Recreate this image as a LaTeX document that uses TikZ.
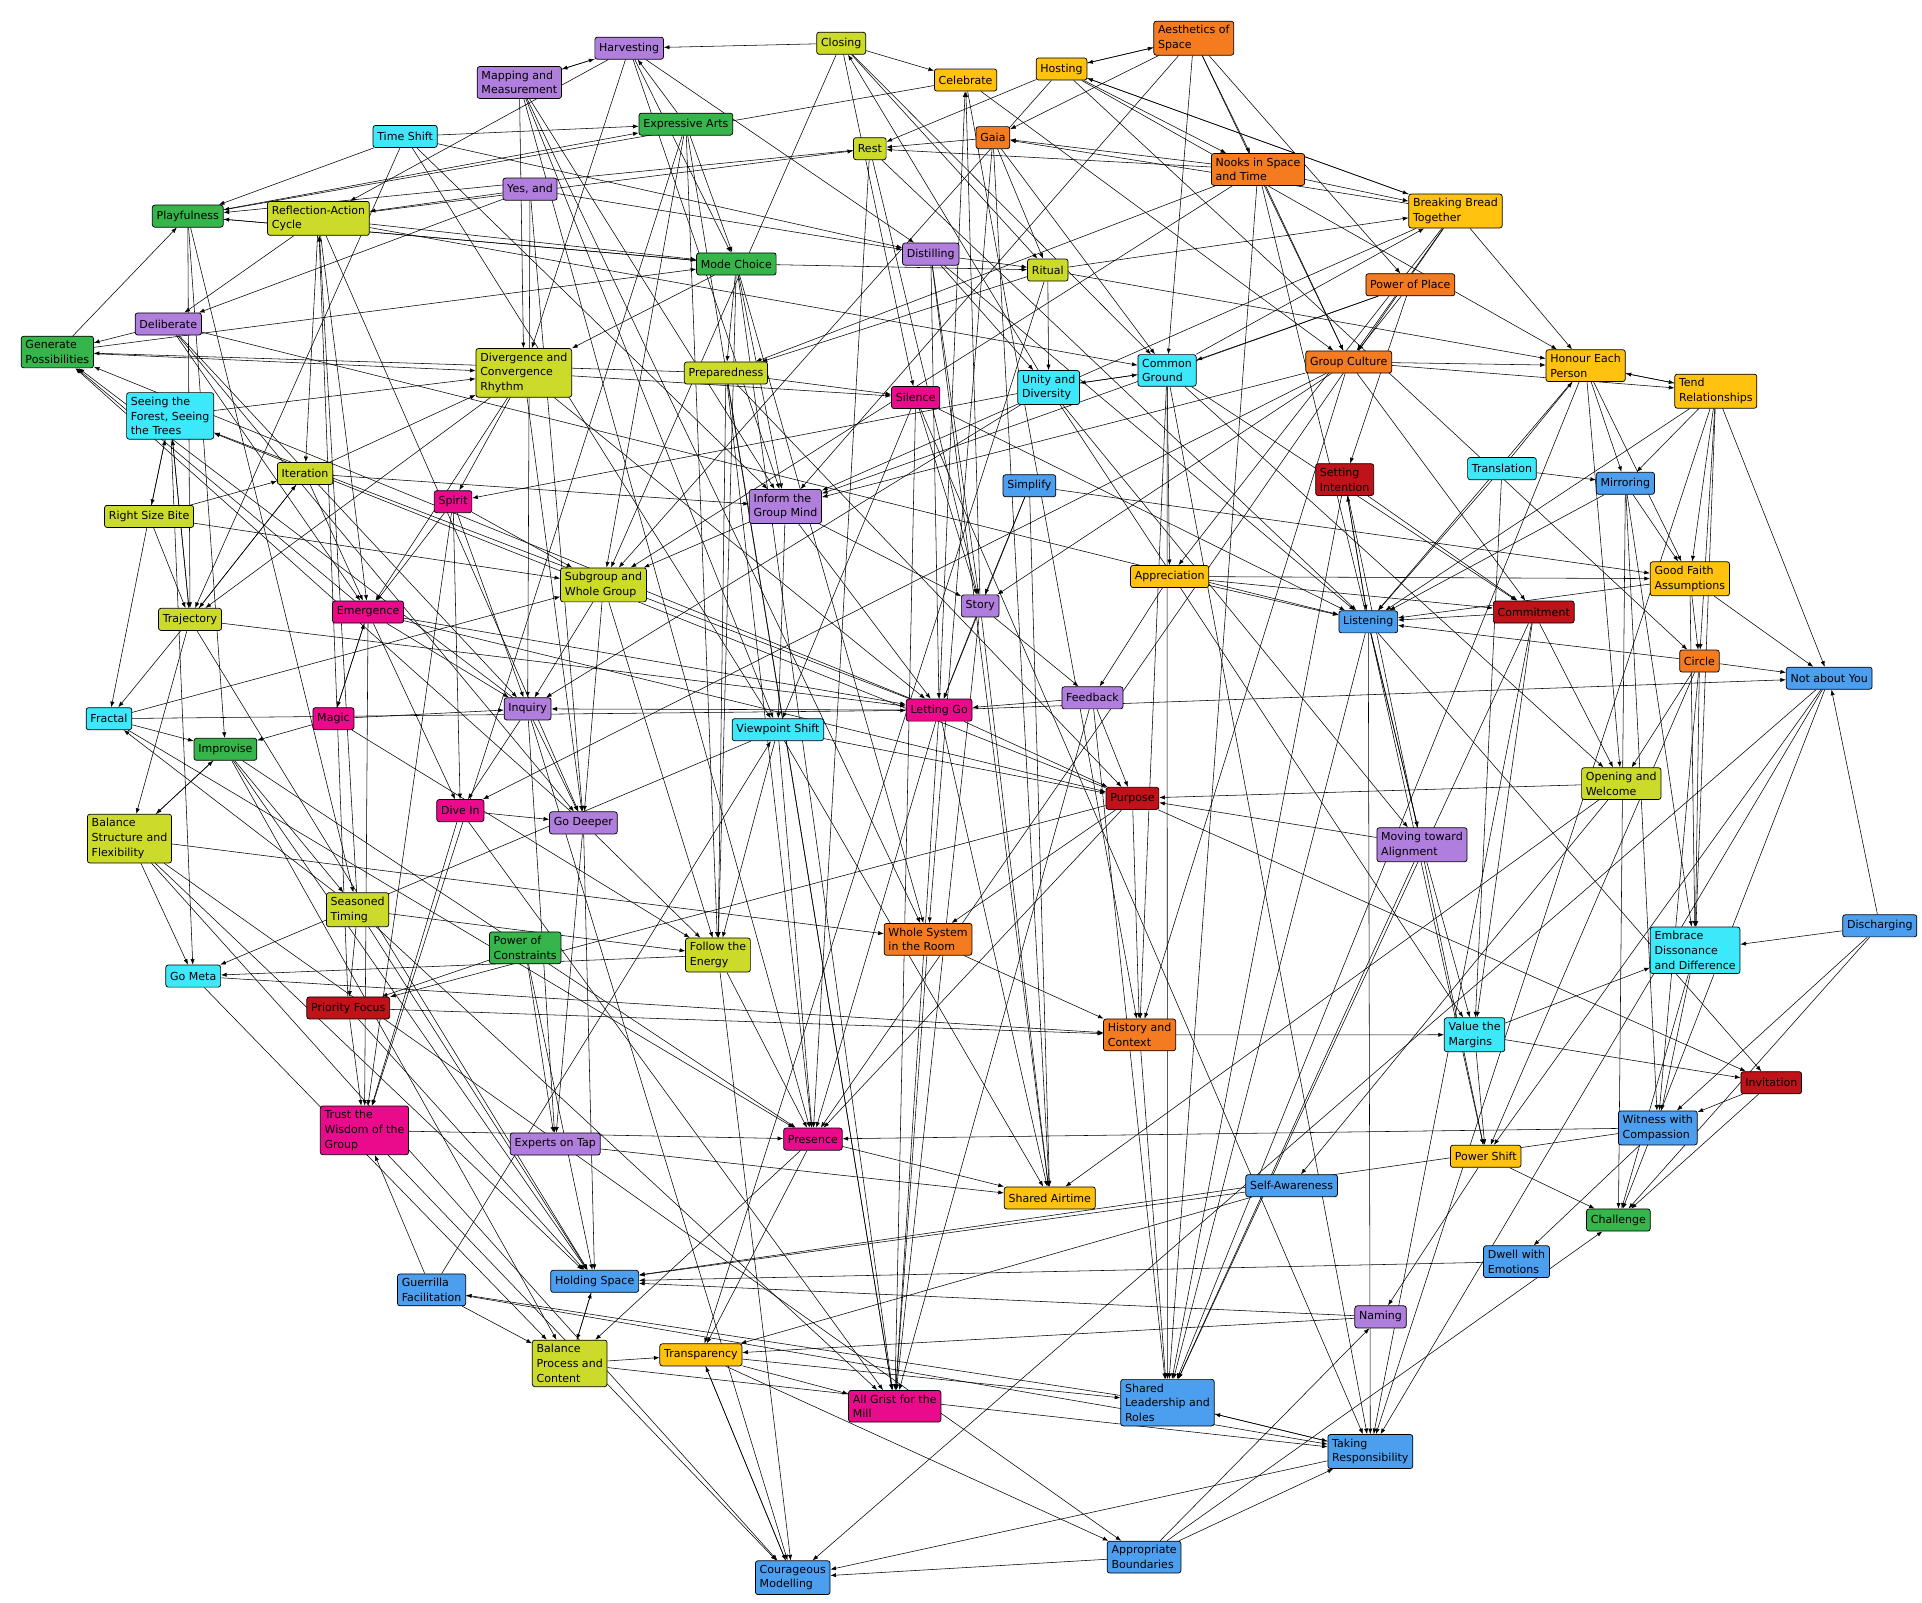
\documentclass[tikz,border=0pt]{standalone}
\usepackage{fontspec}
\setmainfont{DejaVu Sans}
\usepackage{xcolor}
\usetikzlibrary{arrows.meta}
\pgfdeclarelayer{bg}
\pgfsetlayers{bg,main}

\definecolor{lav}{RGB}{176,126,220}
\definecolor{grn}{RGB}{54,181,74}
\definecolor{cyn}{RGB}{62,232,251}
\definecolor{ylg}{RGB}{204,219,42}
\definecolor{gld}{RGB}{255,194,14}
\definecolor{org}{RGB}{244,123,32}
\definecolor{mag}{RGB}{234,10,140}
\definecolor{crd}{RGB}{191,18,25}
\definecolor{blu}{RGB}{76,159,238}

\begin{document}
\begin{tikzpicture}[x=1pt, y=-1pt,
    every node/.style={font=\fontsize{9}{12}\selectfont},
    box/.style={draw, line width=0.6pt, rounded corners=2pt, anchor=north west, align=left, inner xsep=3.5pt, inner ysep=3.5pt, minimum height=18pt},
    pu/.style={box, fill=lav}, gr/.style={box, fill=grn}, cy/.style={box, fill=cyn},
    yg/.style={box, fill=ylg}, go/.style={box, fill=gld}, or/.style={box, fill=org},
    mg/.style={box, fill=mag}, rd/.style={box, fill=crd}, bl/.style={box, fill=blu},
    link/.style={-{Latex[length=1.6mm,width=1.2mm]}, line width=0.45pt}]
    \useasboundingbox (0,0) rectangle (1568,1307);

    % top band
    \node[pu] (harv) at (485,30) {Harvesting};
    \node[yg] (clos) at (666,26) {Closing};
    \node[pu] (mapm) at (389,54) {Mapping and\\Measurement};
    \node[go] (celb) at (762,56) {Celebrate};
    \node[go] (host) at (845,47) {Hosting};
    \node[or] (aest) at (941,17) {Aesthetics of\\Space};
    \node[cy] (tshf) at (304,102) {Time Shift};
    \node[gr] (expa) at (521,92) {Expressive Arts};
    \node[yg] (rest) at (696,112) {Rest};
    \node[or] (gaia) at (796,103) {Gaia};
    \node[or] (nook) at (988,125) {Nooks in Space\\and Time};
    \node[pu] (yesa) at (410,145) {Yes, and};
    \node[gr] (play) at (124,167) {Playfulness};
    \node[yg] (refl) at (218,164) {Reflection-Action\\Cycle};
    \node[go] (brbr) at (1149,158) {Breaking Bread\\Together};
    \node[gr] (modc) at (568,206) {Mode Choice};
    \node[pu] (dist) at (736,198) {Distilling};
    \node[yg] (ritu) at (838,211) {Ritual};
    \node[or] (popl) at (1114,223) {Power of Place};

    % upper middle
    \node[gr] (genp) at (17,274) {Generate\\Possibilities};
    \node[pu] (delb) at (110,255) {Deliberate};
    \node[yg] (divc) at (388,284) {Divergence and\\Convergence\\Rhythm};
    \node[yg] (prep) at (558,295) {Preparedness};
    \node[mg] (silc) at (727,315) {Silence};
    \node[cy] (unid) at (830,302) {Unity and\\Diversity};
    \node[cy] (comg) at (928,289) {Common\\Ground};
    \node[or] (grpc) at (1065,286) {Group Culture};
    \node[go] (hone) at (1261,285) {Honour Each\\Person};
    \node[go] (tend) at (1366,305) {Tend\\Relationships};
    \node[cy] (seef) at (103,320) {Seeing the\\Forest, Seeing\\the Trees};
    \node[yg] (iter) at (226,377) {Iteration};
    \node[bl] (simp) at (818,387) {Simplify};
    \node[rd] (seti) at (1073,378) {Setting\\Intention};
    \node[cy] (tran) at (1197,373) {Translation};
    \node[bl] (mirr) at (1302,385) {Mirroring};
    \node[yg] (rsbt) at (85,412) {Right Size Bite};
    \node[mg] (spir) at (354,400) {Spirit};
    \node[pu] (infg) at (611,399) {Inform the\\Group Mind};
    \node[go] (appr) at (922,461) {Appreciation};
    \node[go] (gfas) at (1346,458) {Good Faith\\Assumptions};
    \node[yg] (subg) at (457,463) {Subgroup and\\Whole Group};
    \node[pu] (stor) at (784,485) {Story};
    \node[mg] (emer) at (271,490) {Emergence};
    \node[yg] (traj) at (129,496) {Trajectory};
    \node[bl] (lstn) at (1092,498) {Listening};
    \node[rd] (comm) at (1218,490) {Commitment};
    \node[or] (circ) at (1370,530) {Circle};
    \node[bl] (nayu) at (1457,544) {Not about You};

    % middle
    \node[pu] (fdbk) at (866,560) {Feedback};
    \node[mg] (letg) at (739,570) {Letting Go};
    \node[pu] (inqu) at (411,569) {Inquiry};
    \node[cy] (frac) at (70,577) {Fractal};
    \node[mg] (magi) at (255,577) {Magic};
    \node[cy] (vpsh) at (597,586) {Viewpoint Shift};
    \node[gr] (impr) at (158,602) {Improvise};
    \node[yg] (opwe) at (1290,626) {Opening and\\Welcome};
    \node[rd] (purp) at (902,642) {Purpose};
    \node[mg] (divi) at (356,652) {Dive In};
    \node[pu] (godp) at (448,662) {Go Deeper};
    \node[yg] (bsfl) at (71,664) {Balance\\Structure and\\Flexibility};
    \node[pu] (mvta) at (1123,675) {Moving toward\\Alignment};
    \node[yg] (seat) at (266,728) {Seasoned\\Timing};
    \node[or] (wsys) at (721,753) {Whole System\\in the Room};
    \node[gr] (pocn) at (399,760) {Power of\\Constraints};
    \node[yg] (foen) at (559,765) {Follow the\\Energy};
    \node[cy] (emdd) at (1346,756) {Embrace\\Dissonance\\and Difference};
    \node[bl] (disc) at (1503,746) {Discharging};
    \node[cy] (gomt) at (135,787) {Go Meta};
    \node[rd] (prfo) at (250,813) {Priority Focus};
    \node[or] (hico) at (900,831) {History and\\Context};
    \node[cy] (vmar) at (1178,830) {Value the\\Margins};
    \node[rd] (invi) at (1420,874) {Invitation};

    % lower band
    \node[mg] (trwg) at (261,902) {Trust the\\Wisdom of the\\Group};
    \node[pu] (extp) at (416,924) {Experts on Tap};
    \node[mg] (pres) at (639,920) {Presence};
    \node[bl] (wwcp) at (1320,906) {Witness with\\Compassion};
    \node[go] (posh) at (1183,934) {Power Shift};
    \node[go] (shai) at (819,968) {Shared Airtime};
    \node[bl] (slfa) at (1016,958) {Self-Awareness};
    \node[gr] (chal) at (1294,986) {Challenge};
    \node[bl] (dwem) at (1210,1016) {Dwell with\\Emotions};
    \node[bl] (hosp) at (449,1036) {Holding Space};
    \node[bl] (guer) at (324,1039) {Guerrilla\\Facilitation};
    \node[pu] (nami) at (1105,1065) {Naming};
    \node[yg] (bpco) at (434,1093) {Balance\\Process and\\Content};
    \node[go] (trsp) at (538,1096) {Transparency};
    \node[mg] (agrm) at (692,1134) {All Grist for the\\Mill};
    \node[bl] (shlr) at (914,1125) {Shared\\Leadership and\\Roles};
    \node[bl] (tkrs) at (1083,1170) {Taking\\Responsibility};
    \node[bl] (apbd) at (903,1257) {Appropriate\\Boundaries};
    \node[bl] (comd) at (616,1273) {Courageous\\Modelling};

    \begin{pgfonlayer}{bg}
    \draw[link] (clos) -- (harv);
    \draw[link] (clos) -- (celb);
    \draw[link] (unid) -- (clos);
    \draw[link] (clos) -- (subg);
    \draw[link] (clos) -- (silc);
    \draw[link] (clos) -- (ritu);
    \draw[link] (clos) -- (comg);
    \draw[link] (harv) -- (mapm);
    \draw[link] (mapm) -- (harv);
    \draw[link] (harv) -- (refl);
    \draw[link] (harv) -- (modc);
    \draw[link] (harv) -- (dist);
    \draw[link] (harv) -- (divc);
    \draw[link] (expa) -- (harv);
    \draw[link] (harv) -- (infg);
    \draw[link] (mapm) -- (infg);
    \draw[link] (mapm) -- (vpsh);
    \draw[link] (mapm) -- (pres);
    \draw[link] (mapm) -- (divc);
    \draw[link] (mapm) -- (wsys);
    \draw[link] (celb) -- (play);
    \draw[link] (stor) -- (celb);
    \draw[link] (celb) -- (grpc);
    \draw[link] (celb) -- (hico);
    \draw[link] (letg) -- (celb);
    \draw[link] (host) -- (aest);
    \draw[link] (aest) -- (host);
    \draw[link] (host) -- (rest);
    \draw[link] (host) -- (brbr);
    \draw[link] (brbr) -- (host);
    \draw[link] (host) -- (nook);
    \draw[link] (host) -- (hone);
    \draw[link] (host) -- (subg);
    \draw[link] (host) -- (circ);
    \draw[link] (aest) -- (gaia);
    \draw[link] (aest) -- (nook);
    \draw[link] (aest) -- (comg);
    \draw[link] (aest) -- (grpc);
    \draw[link] (aest) -- (popl);
    \draw[link] (aest) -- (infg);
    \draw[link] (tshf) -- (expa);
    \draw[link] (tshf) -- (play);
    \draw[link] (tshf) -- (dist);
    \draw[link] (tshf) -- (vpsh);
    \draw[link] (tshf) -- (infg);
    \draw[link] (tshf) -- (traj);
    \draw[link] (expa) -- (modc);
    \draw[link] (expa) -- (subg);
    \draw[link] (expa) -- (foen);
    \draw[link] (expa) -- (trwg);
    \draw[link] (expa) -- (agrm);
    \draw[link] (play) -- (expa);
    \draw[link] (rest) -- (play);
    \draw[link] (gaia) -- (rest);
    \draw[link] (nook) -- (rest);
    \draw[link] (refl) -- (rest);
    \draw[link] (rest) -- (stor);
    \draw[link] (rest) -- (pres);
    \draw[link] (rest) -- (lstn);
    \draw[link] (nook) -- (gaia);
    \draw[link] (gaia) -- (ritu);
    \draw[link] (gaia) -- (comg);
    \draw[link] (gaia) -- (shai);
    \draw[link] (gaia) -- (wsys);
    \draw[link] (brbr) -- (gaia);
    \draw[link] (nook) -- (brbr);
    \draw[link] (nook) -- (grpc);
    \draw[link] (nook) -- (prep);
    \draw[link] (nook) -- (subg);
    \draw[link] (nook) -- (shlr);
    \draw[link] (nook) -- (mvta);
    \draw[link] (yesa) -- (refl);
    \draw[link] (yesa) -- (delb);
    \draw[link] (yesa) -- (dist);
    \draw[link] (yesa) -- (inqu);
    \draw[link] (yesa) -- (godp);
    \draw[link] (play) -- (traj);
    \draw[link] (play) -- (modc);
    \draw[link] (modc) -- (play);
    \draw[link] (play) -- (seat);
    \draw[link] (play) -- (impr);
    \draw[link] (genp) -- (play);
    \draw[link] (refl) -- (iter);
    \draw[link] (refl) -- (delb);
    \draw[link] (refl) -- (modc);
    \draw[link] (refl) -- (comg);
    \draw[link] (refl) -- (emer);
    \draw[link] (refl) -- (godp);
    \draw[link] (seat) -- (refl);
    \draw[link] (prfo) -- (refl);
    \draw[link] (brbr) -- (hone);
    \draw[link] (brbr) -- (grpc);
    \draw[link] (brbr) -- (infg);
    \draw[link] (brbr) -- (appr);
    \draw[link] (brbr) -- (pres);
    \draw[link] (comg) -- (brbr);
    \draw[link] (ritu) -- (brbr);
    \draw[link] (modc) -- (prep);
    \draw[link] (modc) -- (foen);
    \draw[link] (modc) -- (wsys);
    \draw[link] (modc) -- (ritu);
    \draw[link] (modc) -- (agrm);
    \draw[link] (modc) -- (divc);
    \draw[link] (modc) -- (infg);
    \draw[link] (dist) -- (ritu);
    \draw[link] (dist) -- (stor);
    \draw[link] (dist) -- (lstn);
    \draw[link] (dist) -- (letg);
    \draw[link] (dist) -- (shai);
    \draw[link] (dist) -- (unid);
    \draw[link] (ritu) -- (unid);
    \draw[link] (ritu) -- (hone);
    \draw[link] (ritu) -- (prep);
    \draw[link] (ritu) -- (trsp);
    \draw[link] (popl) -- (grpc);
    \draw[link] (popl) -- (comg);
    \draw[link] (popl) -- (seti);
    \draw[link] (popl) -- (infg);
    \draw[link] (genp) -- (divc);
    \draw[link] (genp) -- (modc);
    \draw[link] (inqu) -- (genp);
    \draw[link] (letg) -- (genp);
    \draw[link] (prep) -- (genp);
    \draw[link] (godp) -- (genp);
    \draw[link] (delb) -- (genp);
    \draw[link] (emer) -- (genp);
    \draw[link] (delb) -- (lstn);
    \draw[link] (delb) -- (inqu);
    \draw[link] (delb) -- (godp);
    \draw[link] (delb) -- (emer);
    \draw[link] (divc) -- (spir);
    \draw[link] (divc) -- (silc);
    \draw[link] (divc) -- (godp);
    \draw[link] (divc) -- (letg);
    \draw[link] (divc) -- (traj);
    \draw[link] (divc) -- (emer);
    \draw[link] (prep) -- (silc);
    \draw[link] (prep) -- (agrm);
    \draw[link] (prep) -- (foen);
    \draw[link] (prep) -- (purp);
    \draw[link] (prep) -- (pres);
    \draw[link] (silc) -- (lstn);
    \draw[link] (silc) -- (stor);
    \draw[link] (silc) -- (vpsh);
    \draw[link] (silc) -- (tkrs);
    \draw[link] (silc) -- (agrm);
    \draw[link] (unid) -- (comg);
    \draw[link] (comg) -- (unid);
    \draw[link] (unid) -- (mvta);
    \draw[link] (unid) -- (vmar);
    \draw[link] (unid) -- (spir);
    \draw[link] (unid) -- (inqu);
    \draw[link] (comg) -- (comm);
    \draw[link] (comg) -- (appr);
    \draw[link] (comg) -- (shlr);
    \draw[link] (comg) -- (hico);
    \draw[link] (comg) -- (opwe);
    \draw[link] (comg) -- (tkrs);
    \draw[link] (grpc) -- (hone);
    \draw[link] (grpc) -- (tend);
    \draw[link] (grpc) -- (comm);
    \draw[link] (grpc) -- (stor);
    \draw[link] (grpc) -- (hico);
    \draw[link] (grpc) -- (infg);
    \draw[link] (grpc) -- (divi);
    \draw[link] (hone) -- (tend);
    \draw[link] (tend) -- (hone);
    \draw[link] (hone) -- (mirr);
    \draw[link] (hone) -- (opwe);
    \draw[link] (hone) -- (lstn);
    \draw[link] (hone) -- (gfas);
    \draw[link] (hone) -- (shlr);
    \draw[link] (tend) -- (gfas);
    \draw[link] (tend) -- (circ);
    \draw[link] (tend) -- (nayu);
    \draw[link] (tend) -- (tkrs);
    \draw[link] (tend) -- (emdd);
    \draw[link] (tend) -- (lstn);
    \draw[link] (tend) -- (mirr);
    \draw[link] (seef) -- (traj);
    \draw[link] (traj) -- (seef);
    \draw[link] (seef) -- (rsbt);
    \draw[link] (rsbt) -- (seef);
    \draw[link] (seef) -- (divc);
    \draw[link] (letg) -- (seef);
    \draw[link] (purp) -- (seef);
    \draw[link] (seef) -- (gomt);
    \draw[link] (iter) -- (traj);
    \draw[link] (traj) -- (iter);
    \draw[link] (iter) -- (emer);
    \draw[link] (rsbt) -- (iter);
    \draw[link] (iter) -- (divc);
    \draw[link] (iter) -- (infg);
    \draw[link] (simp) -- (stor);
    \draw[link] (simp) -- (letg);
    \draw[link] (simp) -- (gfas);
    \draw[link] (simp) -- (shai);
    \draw[link] (seti) -- (lstn);
    \draw[link] (seti) -- (comm);
    \draw[link] (seti) -- (shlr);
    \draw[link] (seti) -- (posh);
    \draw[link] (lstn) -- (seti);
    \draw[link] (tran) -- (mirr);
    \draw[link] (tran) -- (lstn);
    \draw[link] (tran) -- (vmar);
    \draw[link] (tran) -- (hone);
    \draw[link] (mirr) -- (gfas);
    \draw[link] (mirr) -- (wwcp);
    \draw[link] (mirr) -- (emdd);
    \draw[link] (mirr) -- (lstn);
    \draw[link] (mirr) -- (chal);
    \draw[link] (rsbt) -- (traj);
    \draw[link] (rsbt) -- (frac);
    \draw[link] (rsbt) -- (subg);
    \draw[link] (spir) -- (emer);
    \draw[link] (spir) -- (trwg);
    \draw[link] (spir) -- (divi);
    \draw[link] (spir) -- (inqu);
    \draw[link] (spir) -- (subg);
    \draw[link] (infg) -- (subg);
    \draw[link] (infg) -- (vpsh);
    \draw[link] (infg) -- (letg);
    \draw[link] (infg) -- (stor);
    \draw[link] (appr) -- (lstn);
    \draw[link] (appr) -- (fdbk);
    \draw[link] (appr) -- (comm);
    \draw[link] (appr) -- (gfas);
    \draw[link] (gfas) -- (nayu);
    \draw[link] (gfas) -- (circ);
    \draw[link] (gfas) -- (lstn);
    \draw[link] (gfas) -- (emdd);
    \draw[link] (subg) -- (godp);
    \draw[link] (subg) -- (foen);
    \draw[link] (subg) -- (inqu);
    \draw[link] (stor) -- (letg);
    \draw[link] (stor) -- (fdbk);
    \draw[link] (stor) -- (shai);
    \draw[link] (stor) -- (agrm);
    \draw[link] (emer) -- (inqu);
    \draw[link] (emer) -- (magi);
    \draw[link] (emer) -- (trwg);
    \draw[link] (emer) -- (letg);
    \draw[link] (emer) -- (purp);
    \draw[link] (emer) -- (divi);
    \draw[link] (traj) -- (frac);
    \draw[link] (traj) -- (letg);
    \draw[link] (traj) -- (bsfl);
    \draw[link] (traj) -- (hosp);
    \draw[link] (lstn) -- (tkrs);
    \draw[link] (lstn) -- (shlr);
    \draw[link] (lstn) -- (posh);
    \draw[link] (lstn) -- (mvta);
    \draw[link] (lstn) -- (invi);
    \draw[link] (comm) -- (lstn);
    \draw[link] (comm) -- (opwe);
    \draw[link] (comm) -- (vmar);
    \draw[link] (comm) -- (shlr);
    \draw[link] (comm) -- (tkrs);
    \draw[link] (circ) -- (nayu);
    \draw[link] (circ) -- (opwe);
    \draw[link] (circ) -- (posh);
    \draw[link] (circ) -- (emdd);
    \draw[link] (circ) -- (wwcp);
    \draw[link] (circ) -- (lstn);
    \draw[link] (nayu) -- (tkrs);
    \draw[link] (nayu) -- (comd);
    \draw[link] (nayu) -- (posh);
    \draw[link] (nayu) -- (chal);
    \draw[link] (fdbk) -- (letg);
    \draw[link] (fdbk) -- (purp);
    \draw[link] (fdbk) -- (shlr);
    \draw[link] (fdbk) -- (agrm);
    \draw[link] (letg) -- (purp);
    \draw[link] (letg) -- (inqu);
    \draw[link] (letg) -- (agrm);
    \draw[link] (letg) -- (pres);
    \draw[link] (letg) -- (shai);
    \draw[link] (letg) -- (nayu);
    \draw[link] (inqu) -- (godp);
    \draw[link] (inqu) -- (divi);
    \draw[link] (inqu) -- (extp);
    \draw[link] (inqu) -- (comd);
    \draw[link] (frac) -- (impr);
    \draw[link] (frac) -- (letg);
    \draw[link] (frac) -- (subg);
    \draw[link] (frac) -- (pres);
    \draw[link] (seat) -- (frac);
    \draw[link] (magi) -- (impr);
    \draw[link] (magi) -- (emer);
    \draw[link] (magi) -- (inqu);
    \draw[link] (magi) -- (foen);
    \draw[link] (vpsh) -- (foen);
    \draw[link] (vpsh) -- (pres);
    \draw[link] (vpsh) -- (gomt);
    \draw[link] (vpsh) -- (purp);
    \draw[link] (vpsh) -- (shai);
    \draw[link] (impr) -- (hosp);
    \draw[link] (impr) -- (pres);
    \draw[link] (impr) -- (bpco);
    \draw[link] (impr) -- (seat);
    \draw[link] (opwe) -- (purp);
    \draw[link] (opwe) -- (slfa);
    \draw[link] (opwe) -- (shai);
    \draw[link] (purp) -- (hico);
    \draw[link] (purp) -- (pres);
    \draw[link] (purp) -- (wsys);
    \draw[link] (purp) -- (prfo);
    \draw[link] (purp) -- (invi);
    \draw[link] (divi) -- (godp);
    \draw[link] (divi) -- (agrm);
    \draw[link] (divi) -- (trwg);
    \draw[link] (godp) -- (extp);
    \draw[link] (godp) -- (foen);
    \draw[link] (godp) -- (hosp);
    \draw[link] (bsfl) -- (impr);
    \draw[link] (impr) -- (bsfl);
    \draw[link] (bsfl) -- (hosp);
    \draw[link] (bsfl) -- (gomt);
    \draw[link] (bsfl) -- (apbd);
    \draw[link] (bsfl) -- (wsys);
    \draw[link] (bsfl) -- (comd);
    \draw[link] (mvta) -- (purp);
    \draw[link] (mvta) -- (vmar);
    \draw[link] (mvta) -- (shlr);
    \draw[link] (seat) -- (prfo);
    \draw[link] (seat) -- (hosp);
    \draw[link] (seat) -- (agrm);
    \draw[link] (seat) -- (foen);
    \draw[link] (wsys) -- (hico);
    \draw[link] (wsys) -- (agrm);
    \draw[link] (pocn) -- (prfo);
    \draw[link] (pocn) -- (extp);
    \draw[link] (pocn) -- (hosp);
    \draw[link] (foen) -- (pres);
    \draw[link] (foen) -- (comd);
    \draw[link] (foen) -- (gomt);
    \draw[link] (emdd) -- (wwcp);
    \draw[link] (emdd) -- (chal);
    \draw[link] (disc) -- (emdd);
    \draw[link] (disc) -- (wwcp);
    \draw[link] (disc) -- (chal);
    \draw[link] (disc) -- (nayu);
    \draw[link] (gomt) -- (bpco);
    \draw[link] (gomt) -- (hico);
    \draw[link] (prfo) -- (hico);
    \draw[link] (prfo) -- (trwg);
    \draw[link] (prfo) -- (hosp);
    \draw[link] (hico) -- (shlr);
    \draw[link] (hico) -- (vmar);
    \draw[link] (vmar) -- (posh);
    \draw[link] (vmar) -- (emdd);
    \draw[link] (vmar) -- (invi);
    \draw[link] (invi) -- (wwcp);
    \draw[link] (invi) -- (chal);
    \draw[link] (guer) -- (trwg);
    \draw[link] (guer) -- (tkrs);
    \draw[link] (trwg) -- (pres);
    \draw[link] (trwg) -- (comd);
    \draw[link] (extp) -- (shai);
    \draw[link] (pres) -- (shai);
    \draw[link] (pres) -- (trsp);
    \draw[link] (pres) -- (bpco);
    \draw[link] (wwcp) -- (hosp);
    \draw[link] (wwcp) -- (pres);
    \draw[link] (wwcp) -- (dwem);
    \draw[link] (posh) -- (chal);
    \draw[link] (posh) -- (nami);
    \draw[link] (slfa) -- (trsp);
    \draw[link] (slfa) -- (hosp);
    \draw[link] (dwem) -- (hosp);
    \draw[link] (hosp) -- (bpco);
    \draw[link] (bpco) -- (hosp);
    \draw[link] (bpco) -- (tkrs);
    \draw[link] (guer) -- (bpco);
    \draw[link] (shlr) -- (guer);
    \draw[link] (guer) -- (vpsh);
    \draw[link] (nami) -- (hosp);
    \draw[link] (nami) -- (trsp);
    \draw[link] (bpco) -- (trsp);
    \draw[link] (trsp) -- (agrm);
    \draw[link] (trsp) -- (shlr);
    \draw[link] (trsp) -- (comd);
    \draw[link] (trsp) -- (apbd);
    \draw[link] (comd) -- (trsp);
    \draw[link] (shlr) -- (tkrs);
    \draw[link] (tkrs) -- (shlr);
    \draw[link] (tkrs) -- (comd);
    \draw[link] (apbd) -- (comd);
    \draw[link] (apbd) -- (tkrs);
    \draw[link] (apbd) -- (chal);
    \draw[link] (apbd) -- (nami);
    \end{pgfonlayer}
\end{tikzpicture}
\end{document}
